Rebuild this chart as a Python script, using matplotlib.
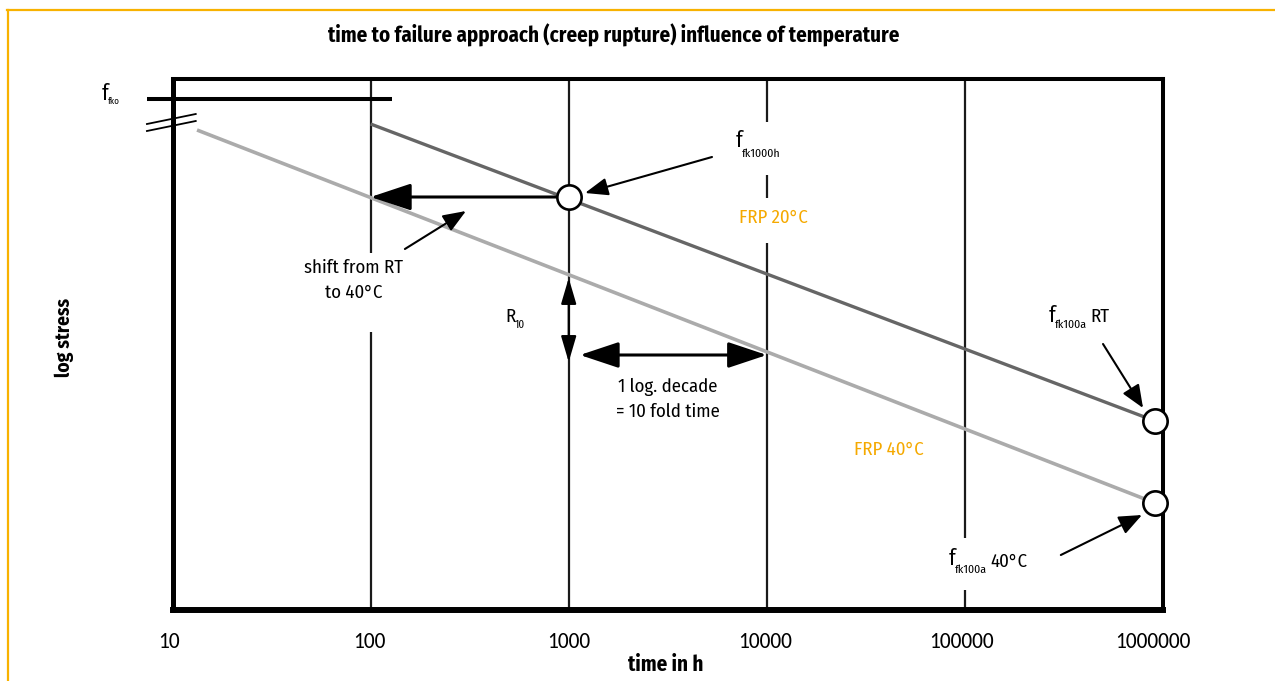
import matplotlib
matplotlib.use('Agg')
import matplotlib.pyplot as plt
from matplotlib.lines import Line2D
from matplotlib.patches import ArrowStyle
from matplotlib.transforms import ScaledTranslation
from matplotlib import font_manager

W, H = 1275, 681

# ---------------- data ----------------
time_ticks = [10, 100, 1000, 10000, 100000, 1000000]
tick_labels = ['10', '100', '1000', '10000', '100000', '1000000']
grid_times = [100, 1000, 10000, 100000]
# gaps (in log-stress units) where the vertical grid lines are interrupted by labels
grid_gaps = {100: [(278, 357)], 1000: [], 10000: [(367, 412), (435, 488)], 100000: [(20, 72)]}

rt_time = [100, 9.12e5]          # FRP 20°C (RT) creep-rupture line
rt_stress = [486, 189]
t40_time = [13.3, 9.12e5]        # FRP 40°C creep-rupture line
t40_stress = [480, 107]

marker_time = [1000, 9.12e5, 9.12e5]
marker_stress = [413, 189, 107]

fko_time = [7.43, 128]
fko_stress = [511, 511]
break_time = [7.43, 13.1]
break_stress_a = [486, 496]
break_stress_b = [479, 489]

# arrows: tail (time, stress) -> head (time, stress)
arrow_shift_main = [(1000, 413), (100, 413)]
arrow_shift_note = [(149, 361), (303, 399)]
arrow_fk1000h = [(5289, 453), (1209, 417)]
arrow_r10 = [(1000, 332), (1000, 248)]
arrow_decade = [(1140, 255), (10000, 255)]
arrow_fk100a_rt = [(4.98e5, 266), (7.93e5, 202)]
arrow_fk100a_40 = [(3.05e5, 55), (7.83e5, 95)]

# ---------------- fonts ----------------
names = {f.name for f in font_manager.fontManager.ttflist}
def pick(*cands):
    for c in cands:
        if c in names:
            return c
    return 'DejaVu Sans'
MAIN = pick('Fira Sans Condensed', 'Liberation Sans Narrow', 'Liberation Sans')
TICK = pick('Carlito', 'Liberation Sans')
plt.rcParams['font.family'] = [MAIN, 'DejaVu Sans']

ORANGE_TXT = '#F5A900'
ORANGE_FRAME = '#F8B200'

fig = plt.figure(figsize=(W / 100, H / 100), dpi=100)
L, R, T, B = 172.5, 1163, 79, 610
ax = fig.add_axes([L / W, (H - B) / H, (R - L) / W, (B - T) / H])
ax.set_xscale('log')
ax.set_xlim(10, 1e6)
ax.set_ylim(0, B - T)

for side, lw in (('left', 3.6), ('bottom', 4.3), ('top', 2.9), ('right', 2.9)):
    ax.spines[side].set_linewidth(lw)
    ax.spines[side].set_color('black')
    ax.spines[side].set_zorder(5)

ax.set_xticks(time_ticks)
ax.set_xticklabels(tick_labels, fontsize=15.5, family=[TICK, 'DejaVu Sans'])
ax.xaxis.set_minor_locator(matplotlib.ticker.NullLocator())
ax.tick_params(axis='x', length=0, pad=16)
ax.set_yticks([])
# small horizontal nudges of the tick labels, as in the reference
for lab, dx in zip(ax.get_xticklabels(), [-4, -1, 0, -2, -3, -10]):
    lab.set_transform(lab.get_transform() + ScaledTranslation(dx / 100, 0, fig.dpi_scale_trans))

# vertical grid lines with gaps
for gt in grid_times:
    segs = []
    start = 0
    for g0, g1 in grid_gaps[gt]:
        segs.append((start, g0))
        start = g1
    segs.append((start, B - T))
    for s0, s1 in segs:
        ax.plot([gt, gt], [s0, s1], color='#1a1a1a', lw=1.6, solid_capstyle='butt', zorder=2)

# creep rupture lines
ax.plot(rt_time, rt_stress, color='#666666', lw=2.4, zorder=3, solid_capstyle='butt')
ax.plot(t40_time, t40_stress, color='#ababab', lw=2.6, zorder=3, solid_capstyle='butt')

# f_fko line and axis break marks
ax.plot(fko_time, fko_stress, color='black', lw=2.9, clip_on=False, zorder=6, solid_capstyle='butt')
ax.plot(break_time, break_stress_a, color='black', lw=1.3, clip_on=False, zorder=6)
ax.plot(break_time, break_stress_b, color='black', lw=1.3, clip_on=False, zorder=6)

def arrow(pair, hl, hw, lw, style='-|>'):
    (t0, y0), (t1, y1) = pair
    ax.annotate('', xy=(t1, y1), xytext=(t0, y0), annotation_clip=False,
                arrowprops=dict(arrowstyle=ArrowStyle(style, head_length=hl, head_width=hw),
                                color='black', lw=lw, shrinkA=0, shrinkB=0,
                                mutation_scale=1), zorder=7)

arrow(arrow_shift_main, 25, 8.3, 2.2)
arrow(arrow_shift_note, 14, 5.5, 1.5)
arrow(arrow_fk1000h, 14, 5.4, 1.5)
arrow(arrow_r10, 16, 4.7, 1.5, '<|-|>')
arrow(arrow_decade, 24, 8.0, 2.2, '<|-|>')
arrow(arrow_fk100a_rt, 14, 5.8, 1.5)
arrow(arrow_fk100a_40, 14, 5.8, 1.5)

ax.plot(marker_time, marker_stress, 'o', ms=17.5, mfc='white', mec='black', mew=1.9,
        zorder=8, clip_on=False)

# ---------------- texts (figure pixel positions) ----------------
def ftext(x, y, s, **kw):
    kw.setdefault('ha', 'center')
    kw.setdefault('va', 'center')
    kw.setdefault('fontsize', 13.5)
    fig.text(x / W, 1 - y / H, s, **kw)

def btext(x, y, s, **kw):
    kw.setdefault('ha', 'left')
    kw.setdefault('va', 'baseline')
    kw.setdefault('fontsize', 13.5)
    fig.text(x / W, 1 - y / H, s, **kw)

ftext(614, 35, 'time to failure approach (creep rupture) influence of temperature',
      fontsize=15, fontweight='bold')
ftext(666, 665, 'time in h', fontsize=15, fontweight='bold')
ftext(64, 337, 'log stress', fontsize=14, fontweight='bold', rotation=90)

btext(102, 100, 'f', fontsize=15.5)
btext(108, 104, 'fko', fontsize=6.5)
btext(736, 147, 'f', fontsize=15.5)
btext(742, 157, 'fk1000h', fontsize=8.5)
ftext(773, 218, 'FRP 20°C', color=ORANGE_TXT)
ftext(889, 450, 'FRP 40°C', color=ORANGE_TXT)
ftext(354, 268, 'shift from RT')
ftext(354, 293, 'to 40°C')
btext(505, 322, 'R')
btext(515, 328, '10', fontsize=8)
ftext(668, 387, '1 log. decade')
ftext(668, 412, '= 10 fold time')
btext(1049, 322, 'f', fontsize=15.5)
btext(1055, 328, 'fk100a', fontsize=8.5)
btext(1090, 322, 'RT')
btext(949, 565, 'f', fontsize=15.5)
btext(955, 573, 'fk100a', fontsize=8.5)
btext(990, 567, '40°C')

fig.add_artist(Line2D([7.5 / W, 7.5 / W], [0, 1 - 9.7 / H], transform=fig.transFigure,
                      color=ORANGE_FRAME, lw=1.6))
fig.add_artist(Line2D([6.7 / W, 1], [1 - 9.7 / H, 1 - 9.7 / H], transform=fig.transFigure,
                      color=ORANGE_FRAME, lw=1.6))

fig.savefig('out.png', dpi=100)
